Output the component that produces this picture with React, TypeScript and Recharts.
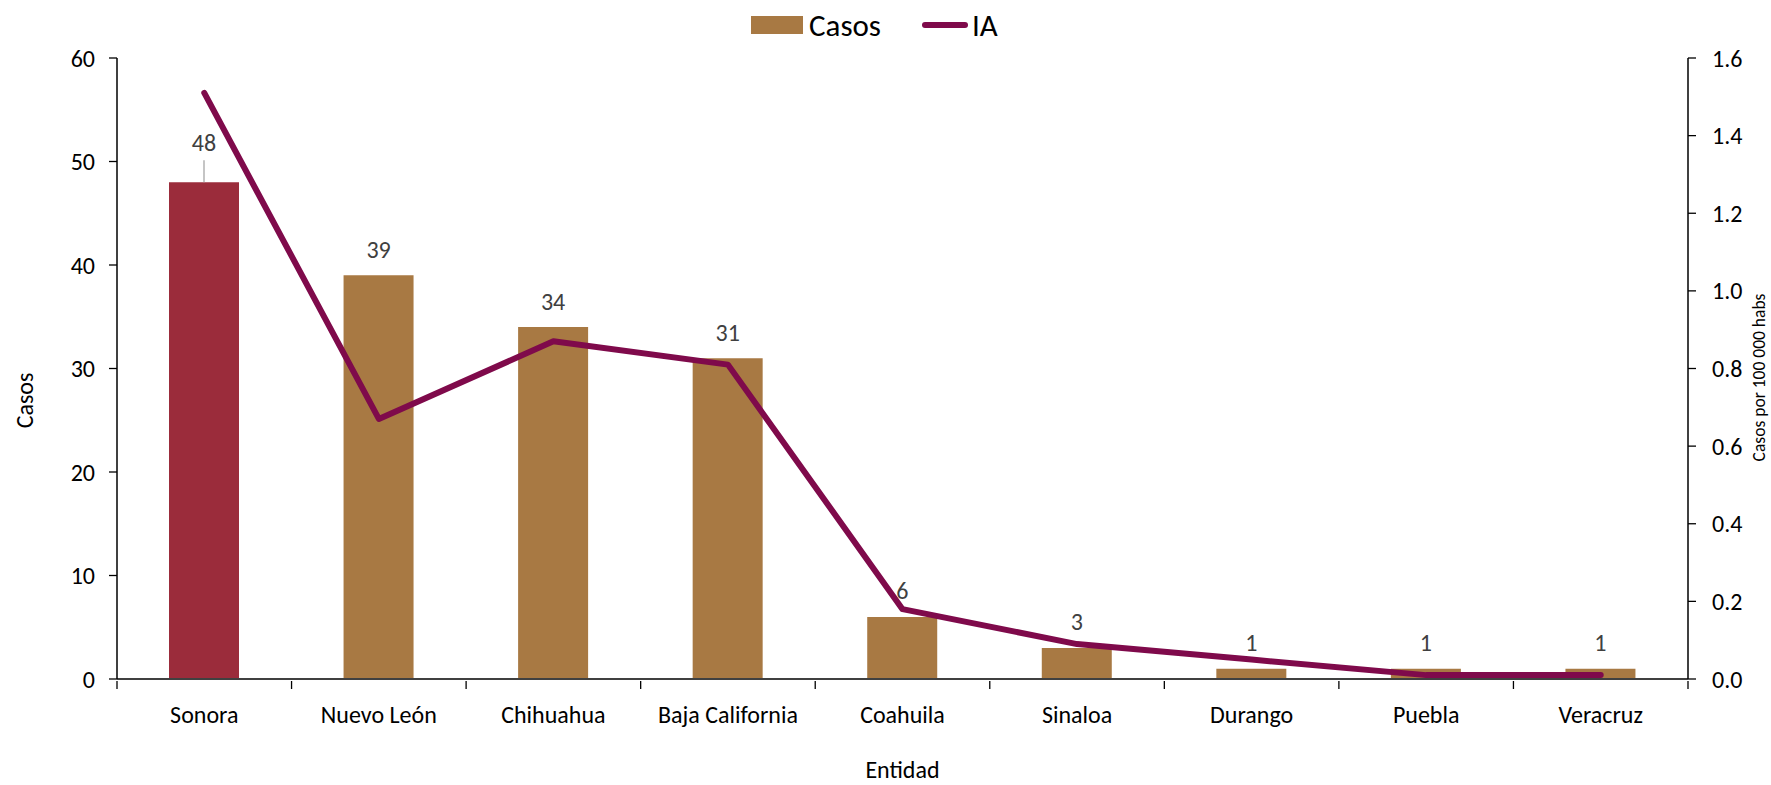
import React from 'react';
import { ComposedChart, Bar, Line, XAxis, YAxis, Legend, Cell, LabelList } from 'recharts';

const categories = ['Sonora', 'Nuevo León', 'Chihuahua', 'Baja California', 'Coahuila', 'Sinaloa', 'Durango', 'Puebla', 'Veracruz'];
const casos = [48, 39, 34, 31, 6, 3, 1, 1, 1];
const ia = [1.51, 0.67, 0.87, 0.81, 0.18, 0.09, 0.05, 0.01, 0.01];
const leftTicks = [0, 10, 20, 30, 40, 50, 60];
const rightTicks = [0, 0.2, 0.4, 0.6, 0.8, 1.0, 1.2, 1.4, 1.6];

const data = categories.map((c, i) => ({ name: c, casos: casos[i], ia: ia[i] }));

const W = 1771;
const H = 785;
const FONT = 'Carlito, Calibri, Lato, sans-serif';
const BAR = '#A87943';
const BAR_HI = '#9B2C3B';
const LINE = '#7F0A4B';
const TXT = '#000000';
const LBL = '#404040';

const XTick = (props: any) => {
  const { x, y, payload, index } = props;
  const half = payload && payload.offset ? payload.offset : 87;
  const last = index === categories.length - 1;
  return (
    <g>
      <line x1={x - half} y1={y - 8} x2={x - half} y2={y} stroke="#000" strokeWidth={1.3} />
      {last && <line x1={x + half} y1={y - 8} x2={x + half} y2={y} stroke="#000" strokeWidth={1.3} />}
      <text x={x} y={y + 25} textAnchor="middle" dominantBaseline="central" fontFamily={FONT} fontSize={24} fill={TXT}>
        {payload.value}
      </text>
    </g>
  );
};

const BarLabel = (props: any) => {
  const { x, y, width, value, index } = props;
  const cx = x + width / 2;
  if (index === 0) {
    return (
      <g>
        <line x1={cx} y1={y} x2={cx} y2={y - 22} stroke="#A6A6A6" strokeWidth={1.3} />
        <text x={cx} y={y - 40} textAnchor="middle" dominantBaseline="central" fontFamily={FONT} fontSize={24} fill={LBL}>
          {value}
        </text>
      </g>
    );
  }
  return (
    <text x={cx} y={y - 26} textAnchor="middle" dominantBaseline="central" fontFamily={FONT} fontSize={24} fill={LBL}>
      {value}
    </text>
  );
};

const LegendContent = () => (
  <div style={{ position: 'relative', width: W, height: 40, fontFamily: FONT }}>
    <div style={{ position: 'absolute', left: 751, top: 2, width: 52, height: 18, background: BAR }} />
    <div style={{ position: 'absolute', left: 809, top: 11, transform: 'translateY(-50%)', fontSize: 31, lineHeight: '36px', color: TXT }}>Casos</div>
    <div style={{ position: 'absolute', left: 922, top: 8, width: 46, height: 6, borderRadius: 3, background: LINE }} />
    <div style={{ position: 'absolute', left: 972, top: 11, transform: 'translateY(-50%)', fontSize: 31, lineHeight: '36px', color: TXT }}>IA</div>
  </div>
);

const LeftTitle = (props: any) => {
  const { viewBox } = props;
  const cx = viewBox.x - 33;
  const cy = viewBox.y + viewBox.height / 2 + 32;
  return (
    <text x={cx} y={cy} transform={`rotate(-90 ${cx} ${cy})`} textAnchor="middle" dominantBaseline="central" fontFamily={FONT} fontSize={24} fill={TXT}>
      Casos
    </text>
  );
};

const RightTitle = (props: any) => {
  const { viewBox } = props;
  const cx = viewBox.x + viewBox.width + 11;
  const cy = viewBox.y + viewBox.height / 2 + 9;
  return (
    <text x={cx} y={cy} transform={`rotate(-90 ${cx} ${cy})`} textAnchor="middle" dominantBaseline="central" fontFamily={FONT} fontSize={17.5} fill={TXT}>
      Casos por 100 000 habs
    </text>
  );
};

const BottomTitle = (props: any) => {
  const { viewBox } = props;
  const cx = viewBox.x + viewBox.width / 2;
  return (
    <text x={cx} y={769} textAnchor="middle" dominantBaseline="central" fontFamily={FONT} fontSize={24} fill={TXT}>
      Entidad
    </text>
  );
};

export default function App() {
  return (
    <div style={{ position: 'absolute', left: 0, top: 0, width: W, height: H, background: '#fff' }}>
      <ComposedChart width={W} height={H} data={data} margin={{ top: 18, right: 23, bottom: 46, left: 57 }}>
        <Legend verticalAlign="top" align="left" content={<LegendContent />} wrapperStyle={{ left: 0, top: 14, width: W, height: 40 }} />
        <XAxis
          dataKey="name"
          height={60}
          tickSize={8}
          tickLine={false}
          tick={<XTick />}
          interval={0}
          axisLine={{ stroke: '#404040', strokeWidth: 2 }}
          label={<BottomTitle />}
        />
        <YAxis
          yAxisId="left"
          width={60}
          domain={[0, 60]}
          ticks={leftTicks}
          tickSize={8}
          tickMargin={14}
          axisLine={{ stroke: '#000', strokeWidth: 1.5 }}
          tickLine={{ stroke: '#000', strokeWidth: 1.3 }}
          tick={{ fontFamily: FONT, fontSize: 24, fill: TXT }}
          label={<LeftTitle />}
        />
        <YAxis
          yAxisId="right"
          orientation="right"
          width={60}
          domain={[0, 1.6]}
          ticks={rightTicks}
          tickFormatter={(v: number) => v.toFixed(1)}
          tickSize={8}
          tickMargin={16}
          axisLine={{ stroke: '#000', strokeWidth: 1.5 }}
          tickLine={{ stroke: '#000', strokeWidth: 1.3 }}
          tick={{ fontFamily: FONT, fontSize: 24, fill: TXT, textAnchor: 'start' }}
          label={<RightTitle />}
        />
        <Bar yAxisId="left" dataKey="casos" barSize={70} isAnimationActive={false}>
          {data.map((d, i) => (
            <Cell key={d.name} fill={i === 0 ? BAR_HI : BAR} />
          ))}
          <LabelList dataKey="casos" content={<BarLabel />} />
        </Bar>
        <Line
          yAxisId="right"
          type="linear"
          dataKey="ia"
          stroke={LINE}
          strokeWidth={6}
          strokeLinecap="round"
          strokeLinejoin="round"
          dot={false}
          activeDot={false}
          isAnimationActive={false}
        />
      </ComposedChart>
    </div>
  );
}
